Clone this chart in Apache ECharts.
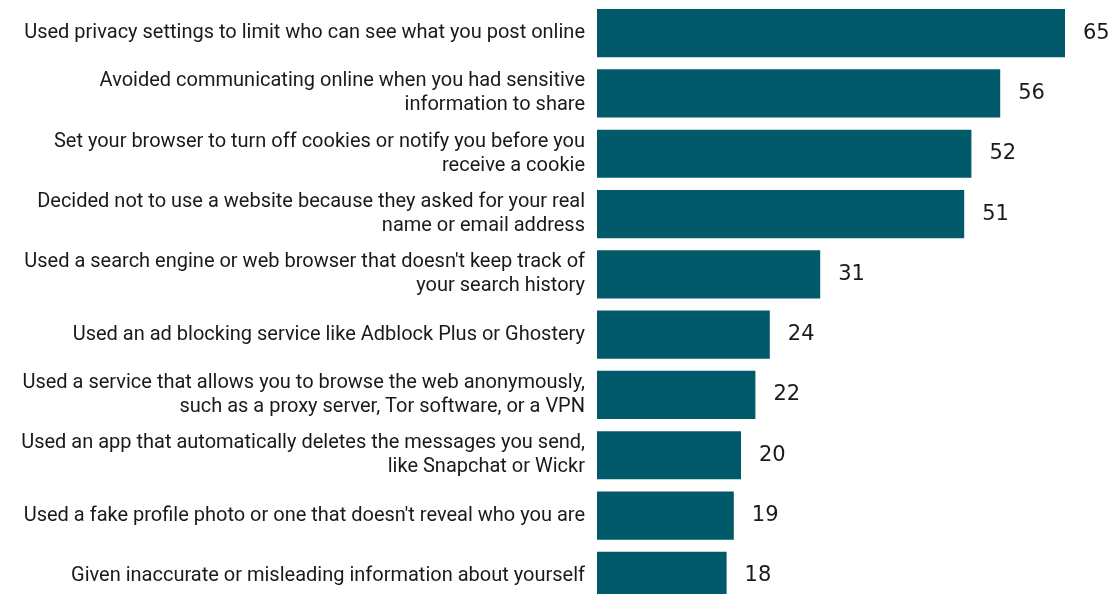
<!DOCTYPE html>
<html>
<head>
<meta charset="utf-8">
<script src="https://cdn.jsdelivr.net/npm/echarts@6/dist/echarts.min.js"></script>
<style>
  html, body { margin: 0; padding: 0; background: #ffffff; }
  #chart { width: 1114px; height: 594px; }
</style>
</head>
<body>
<div id="chart"></div>
<script>
// Privacy-protecting online behaviours, % of respondents
const categories = [
  "Used privacy settings to limit who can see what you post online",
  "Avoided communicating online when you had sensitive\ninformation to share",
  "Set your browser to turn off cookies or notify you before you\nreceive a cookie",
  "Decided not to use a website because they asked for your real\nname or email address",
  "Used a search engine or web browser that doesn't keep track of\nyour search history",
  "Used an ad blocking service like Adblock Plus or Ghostery",
  "Used a service that allows you to browse the web anonymously,\nsuch as a proxy server, Tor software, or a VPN",
  "Used an app that automatically deletes the messages you send,\nlike Snapchat or Wickr",
  "Used a fake profile photo or one that doesn't reveal who you are",
  "Given inaccurate or misleading information about yourself"
];
const values = [65, 56, 52, 51, 31, 24, 22, 20, 19, 18];

const chart = echarts.init(document.getElementById('chart'), null, { renderer: 'canvas' });
chart.setOption({
  animation: false,
  backgroundColor: '#ffffff',
  // the last row runs slightly past the bottom edge of the canvas
  grid: {
    left: 597, width: 468, top: 3, height: 603,
    containLabel: false,
    outerBoundsMode: 'none'
  },
  xAxis: {
    type: 'value', min: 0, max: 65,
    show: false
  },
  yAxis: {
    type: 'category',
    inverse: true,
    data: categories,
    axisLine: { show: false },
    axisTick: { show: false },
    axisLabel: {
      margin: 12,
      color: '#1a1a1a',
      fontFamily: 'Roboto',
      fontSize: 20,
      lineHeight: 24,
      backgroundColor: 'rgba(255,255,255,0)',
      padding: [3, 0, 0, 0],
      align: 'right'
    }
  },
  series: [{
    type: 'bar',
    data: values,
    barCategoryGap: '20%',
    itemStyle: { color: '#005a6a' },
    label: {
      show: true,
      position: 'right',
      distance: 18,
      color: '#1a1a1a',
      fontFamily: 'DejaVu Sans',
      fontSize: 21,
      backgroundColor: 'rgba(255,255,255,0)',
      padding: [4, 0, 0, 0]
    }
  }]
});
</script>
</body>
</html>
